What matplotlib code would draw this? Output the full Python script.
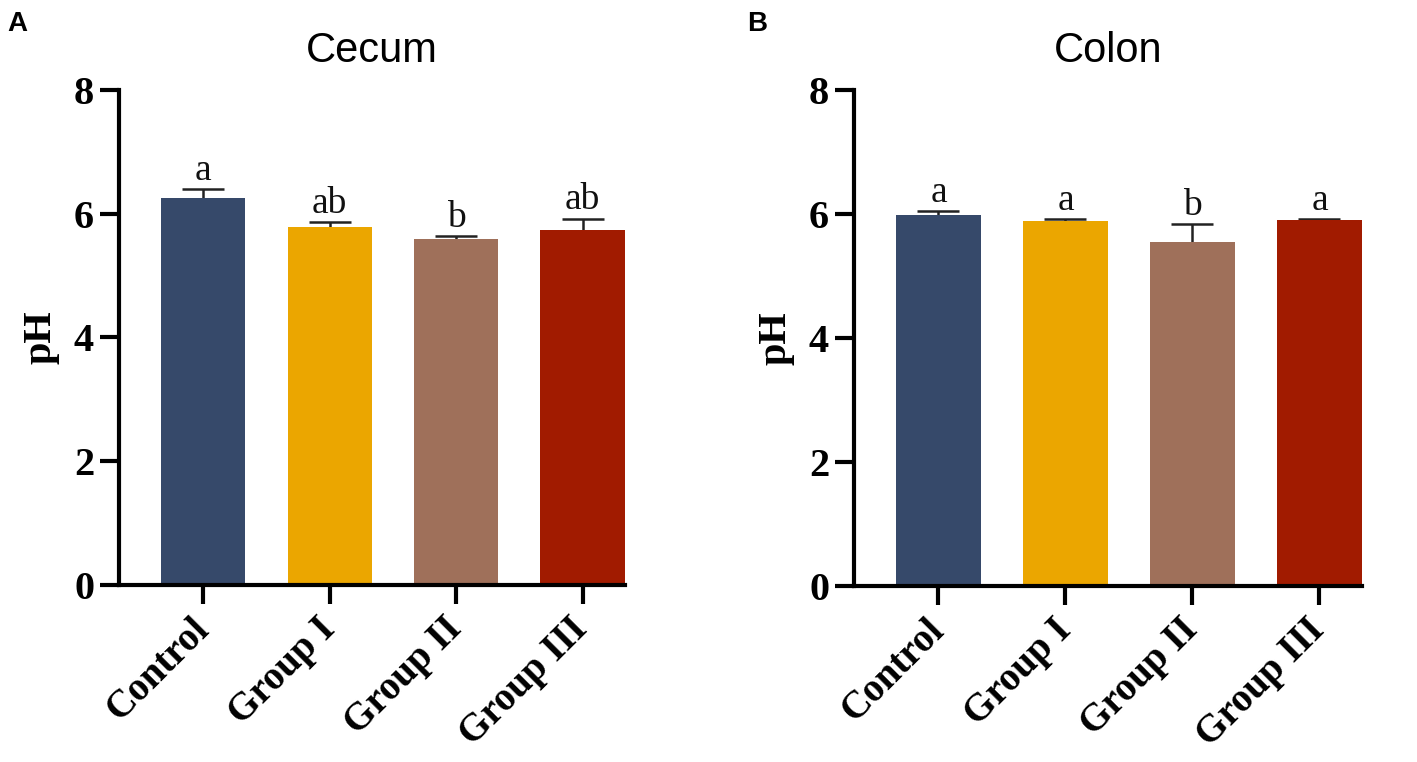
import numpy as np
import matplotlib.pyplot as plt

# --- Data ---
groups = ['Control', 'Group I', 'Group II', 'Group III']
cecum_ph = [6.25, 5.79, 5.59, 5.74]
cecum_err = [0.15, 0.08, 0.05, 0.18]
cecum_letters = ['a', 'ab', 'b', 'ab']
colon_ph = [5.98, 5.88, 5.55, 5.90]
colon_err = [0.06, 0.04, 0.28, 0.02]
colon_letters = ['a', 'a', 'b', 'a']

colors = ['#36496a', '#eba600', '#9f705a', '#a11b00']
serif = 'Liberation Serif'
sans = 'Liberation Sans'

fig = plt.figure(figsize=(14.17, 7.62), dpi=100)
ax_a = fig.add_axes([0.084, 0.2323, 0.357, 0.6496])
ax_b = fig.add_axes([0.6027, 0.231, 0.3585, 0.651])


def draw_panel(ax, values, errs, letters, title):
    x = np.arange(len(groups))
    # symmetric bars drawn under the columns, so only the upper half shows
    ax.errorbar(x, values, yerr=errs, fmt='none', ecolor='#222222',
                elinewidth=1.8, capsize=15, capthick=1.8, zorder=1)
    ax.bar(x, values, width=0.665, color=colors, zorder=2)
    for xi, v, e, lab in zip(x, values, errs, letters):
        ax.text(xi, v + e + 0.02, lab, ha='center', va='bottom',
                family=serif, fontsize=27, color='#111111')

    ax.set_xlim(-0.665, 3.335)
    ax.set_ylim(0, 8)
    ax.set_yticks([0, 2, 4, 6, 8])
    ax.set_xticks(x)
    ax.set_xticklabels(groups, rotation=45, ha='right', va='center',
                       rotation_mode='anchor', family=serif, fontweight='bold',
                       fontsize=28)
    for lab in ax.get_yticklabels():
        lab.set_family(serif)
        lab.set_fontweight('bold')
        lab.set_fontsize(29)
    ax.tick_params(axis='both', direction='out', length=14, width=3, color='black')
    ax.tick_params(axis='y', pad=4)
    ax.tick_params(axis='x', pad=14)
    for s in ['top', 'right']:
        ax.spines[s].set_visible(False)
    for s in ['left', 'bottom']:
        ax.spines[s].set_linewidth(3)
    ax.set_ylabel('pH', family=serif, fontweight='bold', fontsize=29, labelpad=10)
    ax.set_title(title, family=sans, fontsize=30, pad=20)


draw_panel(ax_a, cecum_ph, cecum_err, cecum_letters, 'Cecum')
draw_panel(ax_b, colon_ph, colon_err, colon_letters, 'Colon')

fig.text(0.005, 0.985, 'A', family=sans, fontweight='bold', fontsize=20, va='top')
fig.text(0.527, 0.985, 'B', family=sans, fontweight='bold', fontsize=20, va='top')

fig.savefig('out.png', dpi=100)
